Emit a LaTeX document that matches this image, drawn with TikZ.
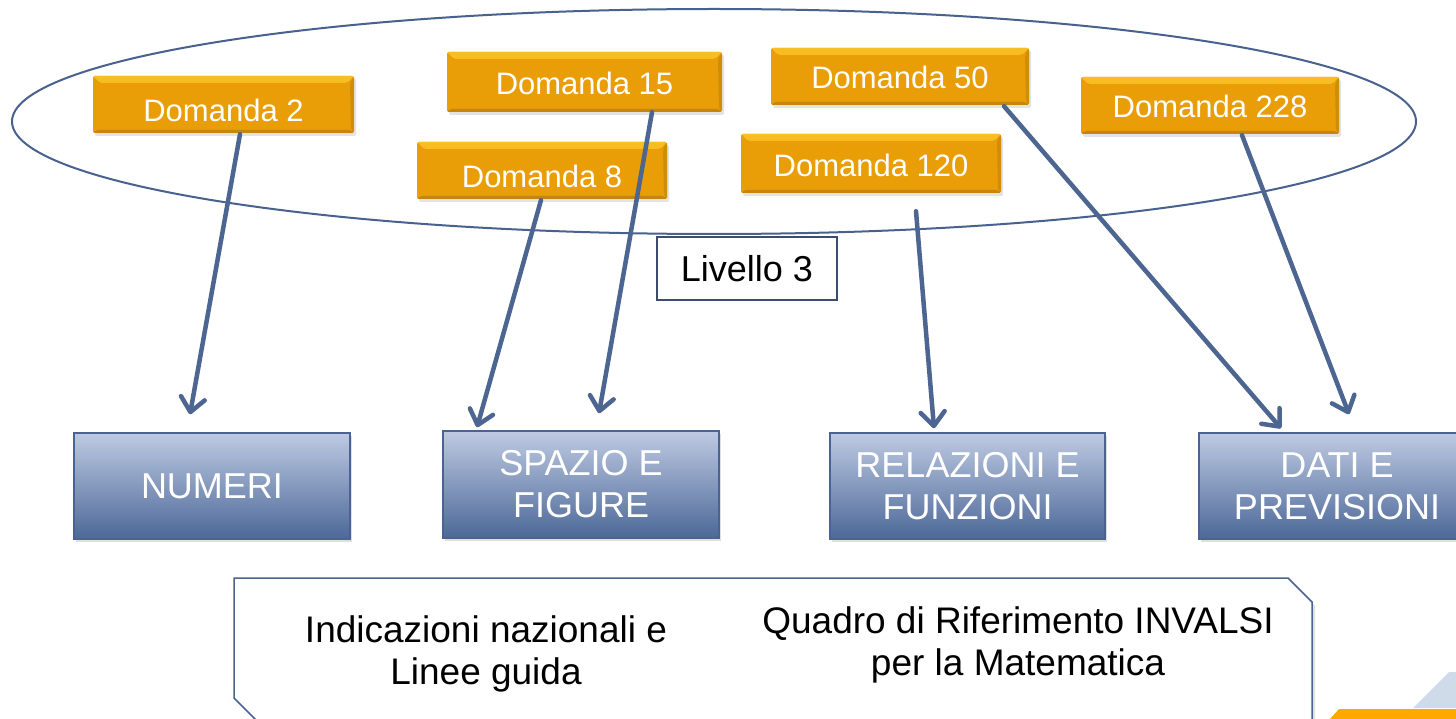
\documentclass[tikz,border=0pt]{standalone}
\usepackage{fontspec}
\setmainfont{Liberation Sans}
\usetikzlibrary{arrows.meta,shadows}
\definecolor{arrblue}{RGB}{76,101,145}
\definecolor{ellblue}{RGB}{72,97,143}
\definecolor{btop}{RGB}{190,202,226}
\definecolor{bbot}{RGB}{76,104,152}
\definecolor{bborder}{RGB}{74,99,144}
\definecolor{otop}{RGB}{248,190,36}
\definecolor{otopb}{RGB}{240,170,18}
\definecolor{omid}{RGB}{233,157,6}
\definecolor{obot}{RGB}{196,134,14}
\definecolor{livborder}{RGB}{60,76,108}
\definecolor{decoblue}{RGB}{208,219,233}
\definecolor{decoorange}{RGB}{255,169,0}
\tikzset{
  obox/.style={rectangle, rounded corners=2pt, fill=omid, text=white,
    font=\fontsize{31}{36}\selectfont, text depth=0pt, inner sep=0pt,
    drop shadow={shadow xshift=2pt, shadow yshift=-3pt, opacity=0.22},
    path picture={
      \shade[top color=otop, bottom color=otopb]
        (path picture bounding box.north west) -- (path picture bounding box.north east)
        -- ([xshift=-7pt,yshift=-7pt]path picture bounding box.north east)
        -- ([xshift=7pt,yshift=-7pt]path picture bounding box.north west) -- cycle;
      \fill[obot]
        (path picture bounding box.south west) -- (path picture bounding box.south east)
        -- ([xshift=-3pt,yshift=3pt]path picture bounding box.south east)
        -- ([xshift=3pt,yshift=3pt]path picture bounding box.south west) -- cycle;
      \fill[obot!70!omid]
        (path picture bounding box.north east) -- (path picture bounding box.south east)
        -- ([xshift=-3pt,yshift=3pt]path picture bounding box.south east)
        -- ([xshift=-4pt,yshift=-7pt]path picture bounding box.north east) -- cycle;
    }},
  bbox/.style={rectangle, draw=bborder, line width=1.5pt,
    top color=btop, bottom color=bbot, text=white, align=center,
    font=\fontsize{36}{42}\selectfont, inner sep=0pt,
    minimum width=276pt, minimum height=106pt,
    drop shadow={shadow xshift=2pt, shadow yshift=-3pt, opacity=0.25}},
  livbox/.style={rectangle, draw=livborder, line width=1.5pt, fill=white,
    font=\fontsize{36}{42}\selectfont, inner sep=0pt,
    minimum width=180pt, minimum height=63pt},
  btext/.style={align=center, font=\fontsize{37}{42}\selectfont, inner sep=0pt},
  arr/.style={draw=arrblue, line width=4.5pt, line cap=round,
    -{Straight Barb[length=14pt,width=24pt,line cap=round,line join=round]}}
}
\begin{document}
\begin{tikzpicture}[x=1pt,y=-1pt]
\useasboundingbox (0,0) rectangle (1456,719);
\clip (0,0) rectangle (1456,719);
\fill[white] (0,0) rectangle (1456,719);

% level ellipse
\draw[ellblue, line width=2pt] (714,121.5) ellipse [x radius=702pt, y radius=112.5pt];

% question boxes
\node[obox, minimum width=261pt, minimum height=57pt, text height=34pt] (d2) at (223.5,104.5) {Domanda 2};
\node[obox, minimum width=275pt, minimum height=60pt, text height=26pt] (d15) at (584.5,82) {Domanda 15};
\node[obox, minimum width=250pt, minimum height=57pt, text height=34pt] (d8) at (542,170.5) {Domanda 8};
\node[obox, minimum width=258pt, minimum height=57pt, text height=24pt] (d50) at (900,76.5) {Domanda 50};
\node[obox, minimum width=260pt, minimum height=59pt, text height=26pt] (d120) at (871,163.5) {Domanda 120};
\node[obox, minimum width=258pt, minimum height=57pt, text height=24pt] (d228) at (1210,105.5) {Domanda 228};

% level label
\node[livbox] (liv) at (747,268.5) {Livello 3};

% content areas
\node[bbox] (num) at (212,486) {NUMERI};
\node[bbox, minimum height=107pt] (spa) at (581,484.5) {SPAZIO E\\FIGURE};
\node[bbox, minimum width=275pt] (rel) at (967.5,486) {RELAZIONI E\\FUNZIONI};
\node[bbox] (dat) at (1337,486) {DATI E\\PREVISIONI};

% reference frame
\fill[black, opacity=0.12] (237,582) -- (1291,582) -- (1315,606) -- (1315,740) -- (279,740) -- (237,701) -- cycle;
\draw[bborder, line width=1.5pt, fill=white] (234,578) -- (1288,578) -- (1312,602) -- (1312,740) -- (276,740) -- (234,698) -- cycle;
\node[btext] (ind) at (486,653.5) {Indicazioni nazionali e\\Linee guida};
\node[btext] (qdr) at (1018,644.5) {Quadro di Riferimento INVALSI\\per la Matematica};

% connectors
\draw[arr] ([xshift=16.5pt,yshift=-1pt]d2.south) -- ([xshift=-22pt,yshift=18pt]num.north);
\draw[arr] ([xshift=-1pt,yshift=-1pt]d8.south) -- ([xshift=-104pt,yshift=3pt]spa.north);
\draw[arr] ([xshift=67.5pt]d15.south) -- ([xshift=18pt,yshift=17pt]spa.north);
\draw[arr] ([xshift=45pt,yshift=-18pt]d120.south) -- ([xshift=-33.5pt,yshift=4pt]rel.north);
\draw[arr] ([xshift=104pt,yshift=-1pt]d50.south) -- ([xshift=-56pt,yshift=4pt]dat.north);
\draw[arr] ([xshift=32pt,yshift=-1pt]d228.south) -- ([xshift=12pt,yshift=18pt]dat.north);

% corner decoration
\fill[decoblue] (1413,708) -- (1449,672) -- (1460,672) -- (1460,708) -- cycle;
\fill[decoorange] (1329,720) -- (1339,709) -- (1460,709) -- (1460,720) -- cycle;
\end{tikzpicture}
\end{document}
